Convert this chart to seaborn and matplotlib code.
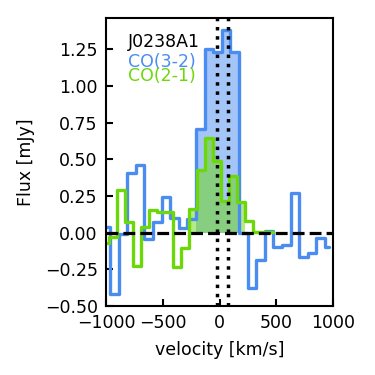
import numpy as np
import pandas as pd
import matplotlib
matplotlib.use("Agg")
import matplotlib.pyplot as plt
import seaborn as sns

# ---- data ----
co32_vel = [-1003, -927, -851, -776, -700, -624, -549, -473, -397, -322, -246, -170,
            -95, -19, 57, 133, 208, 284, 360, 435, 511, 587, 663, 738, 814, 890, 966]
co32_flux = [0.04, -0.42, -0.01, 0.41, 0.46, -0.04, 0.07, 0.245, 0.098, 0.03, 0.095, 0.71,
             1.25, 1.23, 1.38, 1.23, -0.005, -0.38, -0.185, 0.012, -0.095, -0.085, 0.273,
             -0.168, -0.14, -0.038, -0.095]

co21_vel = [-1006, -936, -865, -795, -724, -654, -584, -513, -443, -372, -302, -231,
            -161, -91, -20, 50, 121, 191, 261, 332, 402, 473]
co21_flux = [-0.07, -0.03, 0.29, 0.075, -0.23, 0.04, 0.155, 0.14, 0.14, -0.235, -0.105,
             0.165, 0.43, 0.645, 0.49, 0.215, 0.39, 0.21, 0.08, 0.005, 0.005, 0.005]

fill_range = [-240, 200]          # channels shaded (by channel centre)
vlines = [-25, 75]                # dotted reference velocities
xticks = [-1000, -500, 0, 500, 1000]
yticks = [-0.50, -0.25, 0.00, 0.25, 0.50, 0.75, 1.00, 1.25]
labels = ["J0238A1", "CO(3-2)", "CO(2-1)"]

BLUE = "#4a8cf0"
GREEN = "#6cd80a"

sns.set_theme(style="ticks")
plt.rcParams["font.family"] = ["DejaVu Sans"]
plt.rcParams["font.size"] = 12.5
for k in ["text.color", "axes.labelcolor", "xtick.color", "ytick.color", "axes.edgecolor"]:
    plt.rcParams[k] = "black"

fig = plt.figure(figsize=(3.75, 3.75), dpi=100)
ax = fig.add_axes([0.2827, 0.184, 0.6061, 0.7672])


def edges_from_centres(c):
    c = np.asarray(c, float)
    mid = (c[1:] + c[:-1]) / 2
    return np.concatenate([[c[0] - (mid[0] - c[0])], mid, [c[-1] + (c[-1] - mid[-1])]])


def shade(vel, flux, color, z):
    vel = np.asarray(vel, float)
    flux = np.asarray(flux, float)
    e = edges_from_centres(vel)
    idx = np.where((vel > fill_range[0]) & (vel < fill_range[1]))[0]
    xs = e[idx[0]: idx[-1] + 2]
    ys = np.append(flux[idx], flux[idx[-1]])
    ax.fill_between(xs, 0, ys, step="post", color=color, alpha=0.5, lw=0, zorder=z)


shade(co32_vel, co32_flux, BLUE, 1)
shade(co21_vel, co21_flux, GREEN, 1.1)

df32 = pd.DataFrame({"v": co32_vel, "f": co32_flux})
df21 = pd.DataFrame({"v": co21_vel, "f": co21_flux})
sns.lineplot(data=df32, x="v", y="f", drawstyle="steps-mid", color=BLUE, lw=2.4,
             ax=ax, zorder=2)
sns.lineplot(data=df21, x="v", y="f", drawstyle="steps-mid", color=GREEN, lw=2.4,
             ax=ax, zorder=2.1)

ax.axhline(0, color="black", ls="--", lw=2.3, zorder=3)
for v in vlines:
    ax.axvline(v, color="black", ls=":", lw=2.5, zorder=3)

ax.set_xlim(-1000, 1000)
ax.set_ylim(-0.5, 1.4625)
ax.set_xticks(xticks)
ax.set_yticks(yticks)
ax.set_yticklabels([f"{t:.2f}".replace("-", "\u2212") for t in yticks])
ax.tick_params(direction="in", length=5, width=1.5, pad=6, labelsize=12.5,
               top=False, right=False, colors="black")
for s in ax.spines.values():
    s.set_linewidth(1.5)
    s.set_color("black")

ax.set_xlabel("velocity [km/s]", fontsize=12.5, labelpad=6, color="black")
ax.set_ylabel("Flux [mJy]", fontsize=12.5, labelpad=7, color="black")

ax.text(0.097, 0.901, labels[0], transform=ax.transAxes, color="black", fontsize=12.5,
        va="baseline", ha="left")
ax.text(0.097, 0.830, labels[1], transform=ax.transAxes, color=BLUE, fontsize=12.5,
        va="baseline", ha="left")
ax.text(0.097, 0.782, labels[2], transform=ax.transAxes, color=GREEN, fontsize=12.5,
        va="baseline", ha="left")

fig.savefig("out.png", dpi=100, facecolor="white")
